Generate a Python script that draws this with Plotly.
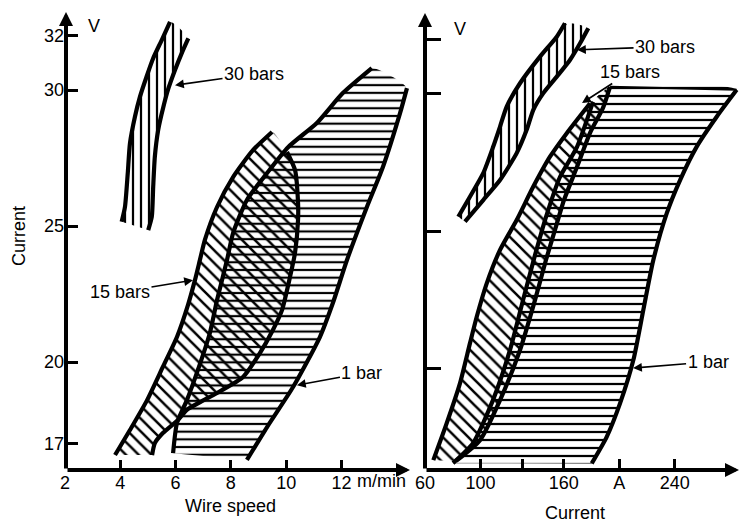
import plotly.graph_objects as go

# ---------------- data ----------------
# Left panel: voltage (V) vs wire speed (m/min)
ws30_left_x = [4.05, 4.17, 4.27, 4.35, 4.53, 4.71, 4.95, 5.19, 5.50, 5.80]
ws30_left_y = [25.16, 25.71, 26.94, 28.04, 29.02, 29.75, 30.49, 31.17, 31.84, 32.51]
ws30_right_x = [5.01, 5.14, 5.19, 5.25, 5.37, 5.56, 5.74, 5.98, 6.22, 6.46]
ws30_right_y = [24.85, 25.34, 26.44, 27.55, 28.53, 29.39, 30.06, 30.74, 31.35, 31.90]

ws15_left_x = [3.81, 4.35, 4.97, 5.54, 6.05, 6.45, 6.70, 6.88, 7.06, 7.50, 8.08, 8.80, 9.49]
ws15_left_y = [16.58, 17.50, 18.60, 19.82, 20.92, 22.10, 23.01, 23.75, 24.49, 25.70, 26.80, 27.79, 28.46]
ws15_right_x = [5.15, 5.25, 5.54, 6.09, 6.41, 7.50, 8.44, 9.05, 9.52, 9.85, 10.14, 10.32, 10.43, 10.43, 10.32, 10.03]
ws15_right_y = [16.58, 17.02, 17.39, 17.87, 18.24, 18.86, 19.45, 20.33, 21.18, 21.91, 23.13, 24.01, 25.22, 25.85, 27.06, 27.72]

ws1_left_x = [5.91, 6.05, 6.41, 6.77, 7.24, 7.50, 7.86, 8.08, 8.58, 9.31, 10.07, 11.11, 12.05, 13.10]
ws1_left_y = [16.65, 17.76, 18.60, 19.60, 21.07, 22.28, 23.75, 24.74, 25.96, 26.95, 27.90, 28.79, 29.89, 30.81]
ws1_right_x = [8.58, 9.31, 10.25, 11.22, 11.69, 12.20, 12.92, 13.50, 14.12, 14.37]
ws1_right_y = [16.40, 17.61, 19.08, 20.92, 22.17, 23.75, 25.70, 27.17, 29.15, 30.07]

# Right panel: voltage (V) vs current (A)
cu30_left_x = [84.0, 92.4, 102.0, 109.2, 114.1, 118.9, 128.5, 142.9, 155.0, 160.9]
cu30_left_y = [25.52, 26.25, 27.11, 28.08, 28.81, 29.54, 30.39, 31.36, 32.09, 32.58]
cu30_right_x = [88.8, 102.0, 114.1, 126.1, 133.3, 138.1, 145.3, 155.0, 164.5, 171.8, 177.7]
cu30_right_y = [25.34, 26.13, 26.86, 27.84, 28.69, 29.42, 30.03, 30.63, 31.24, 31.85, 32.40]

cu15_left_x = [66.0, 75.6, 85.2, 92.4, 97.3, 104.5, 114.1, 126.1, 138.1, 150.1, 162.2, 179.0]
cu15_left_y = [16.64, 17.98, 19.44, 20.90, 21.87, 23.09, 24.31, 25.40, 26.62, 27.71, 28.57, 29.66]
cu15_right_x = [82.4, 99.7, 114.1, 128.5, 139.3, 147.2, 153.7, 160.2, 169.6, 179.0, 188.3, 193.4]
cu15_right_y = [16.61, 17.37, 18.83, 20.66, 22.48, 23.94, 25.04, 26.13, 27.34, 28.58, 29.49, 30.26]

cu1_left_x = [80.2, 94.6, 109.0, 121.3, 130.7, 139.3, 147.2, 157.3, 169.6, 181.1]
cu1_left_y = [16.53, 17.26, 18.83, 20.66, 22.48, 24.12, 25.51, 26.97, 28.07, 29.71]
cu1_right_x = [180.2, 191.0, 200.6, 210.2, 217.4, 224.6, 234.3, 243.9, 255.9, 270.3, 284.7]
cu1_right_y = [16.52, 17.49, 18.71, 20.29, 22.12, 23.94, 25.65, 26.86, 28.08, 29.17, 30.15]

# tick values / labels
ws_ticks = [2, 4, 6, 8, 10, 12]
ws_ticktext = ["2", "4", "6", "8", "10", "12"]
volt_ticks = [17, 20, 25, 30, 32]
volt_ticktext = ["17", "20", "25", "30", "32"]
cu_ticks = [60, 100, 130, 160, 200, 240]
cu_ticktext = ["60", "100", "", "160", "A", "240"]
volt_ticks_right = [20, 25, 30, 32]

# ---------------- figure ----------------
W, H = 741, 523
FONT = "Liberation Sans"
fig = go.Figure()


def region(xl, yl, xr, yr, pattern, size, xa, ya, extra_top=None):
    xs = list(xl)
    ys = list(yl)
    if extra_top is not None:
        xs.append(extra_top[0])
        ys.append(extra_top[1])
    xs += list(reversed(xr))
    ys += list(reversed(yr))
    fig.add_trace(go.Scatter(
        x=xs, y=ys, xaxis=xa, yaxis=ya, mode="lines", fill="toself",
        line=dict(width=0, shape="spline", smoothing=0.6),
        fillcolor="rgba(0,0,0,0)",
        fillpattern=dict(shape=pattern, size=size, solidity=0.28,
                         fgcolor="black", bgcolor="rgba(0,0,0,0)"),
        hoverinfo="skip", showlegend=False))


def edge(x, y, xa, ya, w=4.2):
    fig.add_trace(go.Scatter(
        x=x, y=y, xaxis=xa, yaxis=ya, mode="lines",
        line=dict(color="black", width=w, shape="spline", smoothing=0.6),
        hoverinfo="skip", showlegend=False))


# left panel regions
region(ws30_left_x, ws30_left_y, ws30_right_x, ws30_right_y, "|", 8, "x", "y")
region(ws15_left_x, ws15_left_y, ws15_right_x, ws15_right_y, "\\", 9, "x", "y")
region(ws1_left_x, ws1_left_y, ws1_right_x, ws1_right_y, "-", 7.7, "x", "y")
for xx, yy in [(ws30_left_x, ws30_left_y), (ws30_right_x, ws30_right_y),
               (ws15_left_x, ws15_left_y), (ws15_right_x, ws15_right_y),
               (ws1_left_x, ws1_left_y), (ws1_right_x, ws1_right_y)]:
    edge(xx, yy, "x", "y")

# right panel regions
region(cu30_left_x, cu30_left_y, cu30_right_x, cu30_right_y, "|", 8, "x2", "y2")
region(cu15_left_x, cu15_left_y, cu15_right_x, cu15_right_y, "\\", 9, "x2", "y2")
region(cu1_left_x, cu1_left_y, cu1_right_x, cu1_right_y, "-", 8, "x2", "y2",
       extra_top=(cu15_right_x[-1], cu15_right_y[-1]))
for xx, yy in [(cu30_left_x, cu30_left_y), (cu30_right_x, cu30_right_y),
               (cu15_left_x, cu15_left_y), (cu15_right_x, cu15_right_y),
               (cu1_left_x, cu1_left_y), (cu1_right_x, cu1_right_y)]:
    edge(xx, yy, "x2", "y2")
# top edge of the 1 bar band (current panel)
edge([cu15_right_x[-1], cu1_right_x[-1]], [cu15_right_y[-1], cu1_right_y[-1]], "x2", "y2", w=2)

ydom = [1 - 470 / H, 1 - 12 / H]
axis_common = dict(showgrid=False, zeroline=False, showline=False,
                   ticks="inside", tickcolor="black", tickwidth=2.5,
                   tickfont=dict(family=FONT, size=18, color="black"))

fig.update_layout(
    width=W, height=H, margin=dict(l=0, r=0, t=0, b=0),
    paper_bgcolor="white", plot_bgcolor="rgba(0,0,0,0)",
    template="none", showlegend=False,
    font=dict(family=FONT, size=18, color="black"),
    xaxis=dict(domain=[65 / W, 410 / W], range=[2, 14.48], anchor="y",
               tickvals=ws_ticks, ticktext=ws_ticktext, ticklen=10, **axis_common),
    yaxis=dict(domain=ydom, range=[16.03, 32.87], anchor="x",
               tickvals=volt_ticks, ticktext=volt_ticktext, ticklen=13, **axis_common),
    xaxis2=dict(domain=[425 / W, 1.0], range=[60, 287.8], anchor="y2",
                tickvals=cu_ticks, ticktext=cu_ticktext, ticklen=11, **axis_common),
    yaxis2=dict(domain=ydom, range=[16.28, 32.99], anchor="x2",
                tickvals=volt_ticks_right, showticklabels=False, ticklen=16,
                **{k: v for k, v in axis_common.items() if k != "tickfont"}),
)

ann = []
# axis lines with arrowheads
for hx, hy, ax, ay in [(66, 12, 0, 458), (410, 470, -344, 0),
                       (425, 13, 0, 457), (739, 470, -314, 0)]:
    ann.append(dict(x=hx / W, y=1 - hy / H, xref="paper", yref="paper",
                    ax=ax, ay=ay, text="", showarrow=True, arrowhead=2,
                    arrowsize=0.7, arrowwidth=4, arrowcolor="black"))

# leader labels
for txt, x, y, xr, yr, ax, ay in [
        ("30 bars", 5.98, 30.18, "x", "y", 79, -11),
        ("15 bars", 6.63, 23.01, "x", "y", -73, 12),
        ("1 bar", 10.39, 19.15, "x", "y", 65, -12),
        ("30 bars", 169.6, 31.61, "x2", "y2", 88, -3),
        ("15 bars", 173.2, 29.67, "x2", "y2", 48, -31),
        ("1 bar", 210.0, 20.0, "x2", "y2", 75, -6)]:
    ann.append(dict(x=x, y=y, xref=xr, yref=yr, ax=ax, ay=ay, text=txt,
                    showarrow=True, arrowhead=2, arrowsize=1.1, arrowwidth=1.6,
                    arrowcolor="black", font=dict(family=FONT, size=18, color="black")))

# plain texts
for txt, px, py, ang, xanch in [("V", 94, 26, 0, "center"), ("V", 460, 29, 0, "center"),
                                ("Wire speed", 230, 506, 0, "center"),
                                ("Current", 575, 513, 0, "center"),
                                ("Current", 19, 236, -90, "center"),
                                ("m/min", 355, 481, 0, "left")]:
    ann.append(dict(x=px / W, y=1 - py / H, xref="paper", yref="paper", text=txt,
                    showarrow=False, textangle=ang, xanchor=xanch, yanchor="middle",
                    font=dict(family=FONT, size=18, color="black")))

fig.update_layout(annotations=ann)
fig.write_html("out.html")
